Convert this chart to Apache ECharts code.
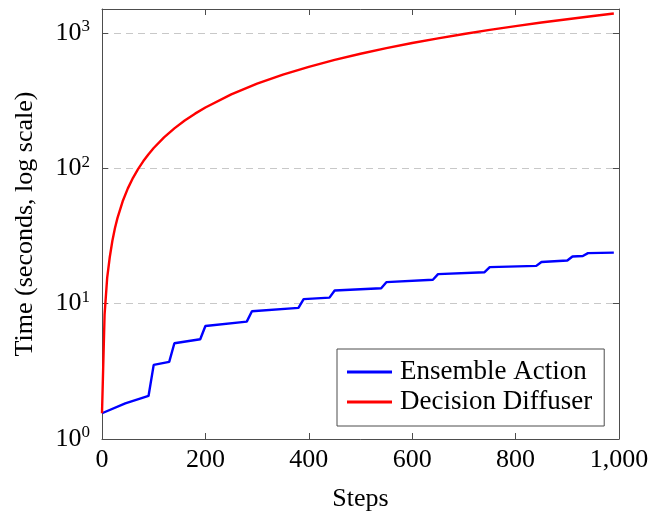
<!DOCTYPE html>
<html>
<head>
<meta charset="utf-8">
<script src="https://cdn.jsdelivr.net/npm/echarts@6/dist/echarts.min.js"></script>
<style>html,body{margin:0;padding:0;background:#fff}#c{width:663px;height:512px}</style>
</head>
<body>
<div id="c"></div>
<script>
var seriesNames = ['Ensemble Action', 'Decision Diffuser'];
var ensembleSteps = [0, 45, 90, 100, 130, 140, 190, 200, 280, 290, 380, 390, 440, 450, 540, 550, 640, 650, 740, 750, 840, 850, 900, 910, 930, 940, 990];
var ensembleTime  = [1.55, 1.83, 2.08, 3.53, 3.71, 5.1, 5.46, 6.84, 7.36, 8.79, 9.3, 10.8, 11.07, 12.5, 13.0, 14.4, 15.0, 16.5, 17.06, 18.6, 19.0, 20.3, 20.8, 22.3, 22.5, 23.6, 23.8];
var diffuserSteps = [0, 5, 10, 15, 20, 25, 30, 40, 50, 60, 70, 80, 90, 100, 120, 140, 160, 180, 200, 250, 300, 350, 400, 450, 500, 550, 600, 650, 700, 750, 800, 850, 900, 950, 990];
var diffuserTime  = [1.55, 8.3, 15.5, 22, 29, 36, 43, 57, 71, 85, 99, 113, 127, 141, 169, 197, 225, 253, 281, 351, 421, 491, 561, 631, 701, 771, 841, 911, 981, 1051, 1121, 1191, 1261, 1331, 1390];
var xTicks = {min: 0, max: 1000, interval: 200};
var yRange = {min: 1, max: 1500};

function pairs(xs, ys) { return xs.map(function (x, i) { return [x, ys[i]]; }); }

var FONT = 'Liberation Serif';
var AX = '#4d4d4d';
var chart = echarts.init(document.getElementById('c'), null, {renderer: 'canvas'});
function yFmt(v) {
  var l = Math.log10(v);
  if (Math.abs(l - Math.round(l)) > 1e-6) return '';
  return '{b|10}{s|' + Math.round(l) + '}';
}
var option = {
  animation: false,
  backgroundColor: '#fff',
  textStyle: {fontFamily: FONT},
  grid: {left: 102, right: 44, top: 9, bottom: 73, containLabel: false, outerBoundsMode: 'none'},
  legend: {
    data: seriesNames,
    orient: 'vertical',
    left: 337, top: 349,
    padding: [8, 12, 9, 10],
    itemGap: 0,
    itemWidth: 45, itemHeight: 3,
    icon: 'rect',
    borderColor: AX, borderWidth: 1,
    backgroundColor: '#fff',
    textStyle: {fontFamily: FONT, fontSize: 27, lineHeight: 30, color: '#000', padding: [0, 0, 0, 3]}
  },
  xAxis: [{
    type: 'value', min: xTicks.min, max: xTicks.max, interval: xTicks.interval,
    position: 'bottom',
    name: 'Steps', nameLocation: 'middle', nameGap: 47,
    nameTextStyle: {fontFamily: FONT, fontSize: 26, color: '#000'},
    axisLine: {show: true, onZero: false, lineStyle: {color: AX, width: 1}},
    axisTick: {show: true, inside: true, length: 6, lineStyle: {color: AX}},
    axisLabel: {fontFamily: FONT, fontSize: 26, color: '#000', margin: 8},
    splitLine: {show: false}
  }, {
    type: 'value', min: xTicks.min, max: xTicks.max, interval: xTicks.interval,
    position: 'top',
    axisLine: {show: true, onZero: false, lineStyle: {color: AX, width: 1}},
    axisTick: {show: true, inside: true, length: 6, lineStyle: {color: AX}},
    axisLabel: {show: false},
    splitLine: {show: false}
  }],
  yAxis: [{
    type: 'log', logBase: 10, min: yRange.min, max: yRange.max,
    position: 'left',
    name: 'Time (seconds, log scale)', nameLocation: 'middle', nameGap: 64, nameRotate: 90,
    nameTextStyle: {fontFamily: FONT, fontSize: 26, color: '#000'},
    axisLine: {show: true, onZero: false, lineStyle: {color: AX, width: 1}},
    axisTick: {show: true, inside: true, length: 6, lineStyle: {color: AX}},
    axisLabel: {
      formatter: yFmt, margin: 12, showMaxLabel: false,
      rich: {
        b: {fontFamily: FONT, fontSize: 26, color: '#000'},
        s: {fontFamily: FONT, fontSize: 17, color: '#000', verticalAlign: 'top', padding: [0, 0, 12, 0]}
      }
    },
    splitLine: {show: true, lineStyle: {color: '#c8c8c8', type: [7, 5], width: 1}},
    minorTick: {show: false}
  }, {
    type: 'log', logBase: 10, min: yRange.min, max: yRange.max,
    position: 'right',
    axisLine: {show: true, onZero: false, lineStyle: {color: AX, width: 1}},
    axisTick: {show: true, inside: true, length: 6, lineStyle: {color: AX}},
    axisLabel: {show: false},
    splitLine: {show: false}
  }],
  series: [{
    name: seriesNames[0], type: 'line', xAxisIndex: 0, yAxisIndex: 0,
    data: pairs(ensembleSteps, ensembleTime),
    showSymbol: false, symbol: 'none',
    lineStyle: {color: '#0000ff', width: 2.4},
    itemStyle: {color: '#0000ff'}
  }, {
    name: seriesNames[1], type: 'line', xAxisIndex: 0, yAxisIndex: 0,
    data: pairs(diffuserSteps, diffuserTime),
    showSymbol: false, symbol: 'none', smooth: false,
    lineStyle: {color: '#ff0000', width: 2.4},
    itemStyle: {color: '#ff0000'}
  }]
};
chart.setOption(option);
</script>
</body>
</html>
